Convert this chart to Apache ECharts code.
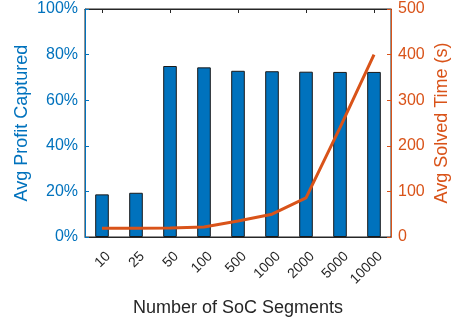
<!DOCTYPE html>
<html>
<head>
    <meta charset="utf-8">
    <title>SoC segments</title>
    <script src="https://cdn.jsdelivr.net/npm/echarts@6/dist/echarts.min.js"></script>
    <style>
        html, body { margin: 0; padding: 0; background: #fff; }
        #chart { width: 456px; height: 319px; }
    </style>
</head>
<body>
<div id="chart"></div>
<script>
    // 数据
    var segments = ['10', '25', '50', '100', '500', '1000', '2000', '5000', '10000'];
    var profitCaptured = [18.7, 19.4, 75.0, 74.4, 72.9, 72.7, 72.5, 72.4, 72.4];
    var solvedTime = [19, 19, 20, 22, 35, 50, 86, 240, 400];

    var blue = '#0072BD', orange = '#D95319', dark = '#262626';
    var fontFam = '"Liberation Sans", Arial, sans-serif';

    var chart = echarts.init(document.getElementById('chart'));

    var option = {
        animation: false,
        textStyle: {fontFamily: fontFam},
        grid: {
            left: 85, right: 65, top: 9, bottom: 82,
            outerBoundsMode: 'none', containLabel: false,
            show: true, borderColor: dark, borderWidth: 1, backgroundColor: 'transparent'
        },
        xAxis: [
            {
                type: 'category',
                data: segments,
                position: 'bottom',
                name: 'Number of SoC Segments',
                nameLocation: 'middle',
                nameGap: 62,
                nameTextStyle: {color: dark, fontSize: 18, fontFamily: fontFam},
                axisLine: {onZero: false, lineStyle: {color: dark, width: 1}},
                axisTick: {alignWithLabel: true, inside: true, length: 4, lineStyle: {color: dark}},
                axisLabel: {rotate: 45, color: dark, fontSize: 14, fontFamily: fontFam,
                    margin: 11, verticalAlign: 'top', padding: [2, 0, 0, 0]}
            },
            {
                type: 'category',
                data: segments,
                position: 'top',
                axisLine: {show: true, onZero: false, lineStyle: {color: dark, width: 1}},
                axisTick: {show: true, alignWithLabel: true, inside: true, length: 4, lineStyle: {color: dark}},
                axisLabel: {show: false}
            }
        ],
        yAxis: [
            {
                type: 'value',
                min: 0, max: 100, interval: 20,
                name: 'Avg Profit Captured',
                nameLocation: 'middle',
                nameGap: 54,
                nameMoveOverlap: false,
                nameTextStyle: {color: blue, fontSize: 18, fontFamily: fontFam},
                axisLine: {show: true, lineStyle: {color: blue}},
                axisTick: {show: true, inside: true, length: 4, lineStyle: {color: blue}},
                axisLabel: {formatter: '{value}%', color: blue, fontSize: 16, fontFamily: fontFam, margin: 7},
                splitLine: {show: false}
            },
            {
                type: 'value',
                min: 0, max: 500, interval: 100,
                name: 'Avg Solved Time (s)',
                nameLocation: 'middle',
                nameGap: 42,
                nameMoveOverlap: false,
                nameTextStyle: {color: orange, fontSize: 18, fontFamily: fontFam},
                axisLine: {show: true, lineStyle: {color: orange}},
                axisTick: {show: true, inside: true, length: 4, lineStyle: {color: orange}},
                axisLabel: {color: orange, fontSize: 16, fontFamily: fontFam, margin: 7},
                splitLine: {show: false}
            }
        ],
        series: [
            {
                type: 'bar',
                data: profitCaptured,
                barWidth: '40%',
                itemStyle: {color: blue, borderColor: '#1a1a1a', borderWidth: 1}
            },
            {
                type: 'line',
                yAxisIndex: 1,
                data: solvedTime,
                showSymbol: false,
                symbol: 'none',
                lineStyle: {color: orange, width: 3},
                z: 5
            },
            {
                // 只为让顶部坐标轴显示
                type: 'line',
                xAxisIndex: 1,
                data: [],
                silent: true
            }
        ]
    };
    chart.setOption(option);
</script>
</body>
</html>
